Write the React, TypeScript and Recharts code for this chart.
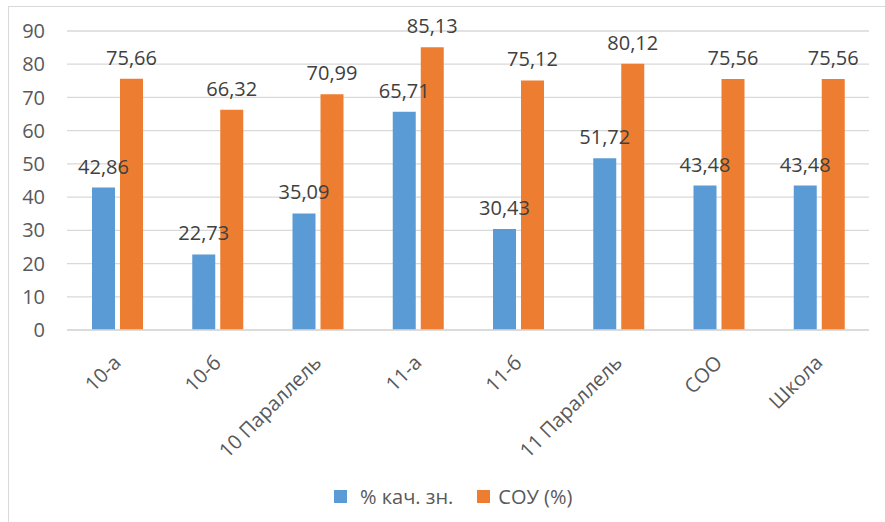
import React from 'react';
import { BarChart, Bar, XAxis, YAxis, CartesianGrid, Legend, LabelList } from 'recharts';

const categories = ['10-а', '10-б', '10 Параллель', '11-а', '11-б', '11 Параллель', 'СОО', 'Школа'];
const quality = [42.86, 22.73, 35.09, 65.71, 30.43, 51.72, 43.48, 43.48];
const sou = [75.66, 66.32, 70.99, 85.13, 75.12, 80.12, 75.56, 75.56];
const yTicks = [0, 10, 20, 30, 40, 50, 60, 70, 80, 90];
const seriesNames = ['% кач. зн.', 'СОУ (%)'];
const seriesColors = ['#5B9BD5', '#ED7D31'];

const data = categories.map((c, i) => ({ name: c, q: quality[i], s: sou[i] }));

const FONT = '"Open Sans", "Noto Sans", sans-serif';

const fmt = (v: any) => Number(v).toFixed(2).replace('.', ',');

const XTick = (props: any) => {
  const { x, y, payload } = props;
  const ex = x + 5;
  const ey = y + 34;
  return (
    <text
      x={ex}
      y={ey}
      transform={`rotate(-45 ${ex} ${ey})`}
      textAnchor="end"
      fill="#595959"
      fontSize={20}
      fontFamily={FONT}
    >
      {payload.value}
    </text>
  );
};

const LegendContent = (props: any) => {
  const { payload } = props;
  return (
    <div style={{ display: 'flex', alignItems: 'center', fontFamily: FONT, fontSize: 20, color: '#595959' }}>
      {(payload || []).map((p: any, i: number) => (
        <div key={i} style={{ display: 'flex', alignItems: 'center', marginRight: 24 }}>
          <div style={{ width: 13, height: 13, background: p.color, marginRight: i === 0 ? 13 : 8 }} />
          <span>{p.value}</span>
        </div>
      ))}
    </div>
  );
};

export default function App() {
  return (
    <div style={{ position: 'absolute', left: 0, top: 0, width: 885, height: 522, overflow: 'hidden', background: '#fff' }}>
      <div
        style={{
          position: 'absolute',
          left: 8,
          top: 6,
          width: 900,
          height: 600,
          borderLeft: '1.5px solid #d9d9d9',
          borderTop: '1.5px solid #d9d9d9',
        }}
      />
      <div style={{ position: 'absolute', left: 0, top: 0 }}>
        <BarChart
          width={885}
          height={522}
          data={data}
          margin={{ top: 31, right: 16, left: 0, bottom: 42 }}
          barGap={5}
          barSize={23}
        >
          <CartesianGrid vertical={false} stroke="#d9d9d9" strokeWidth={1.3} />
          <XAxis
            dataKey="name"
            tickLine={false}
            tickSize={0}
            tickMargin={0}
            axisLine={{ stroke: '#d9d9d9', strokeWidth: 1.5 }}
            tick={<XTick />}
            interval={0}
            height={123}
          />
          <YAxis
            domain={[0, 90]}
            ticks={yTicks}
            width={67}
            axisLine={false}
            tickLine={false}
            tickSize={0}
            tickMargin={22}
            tick={{ fill: '#595959', fontSize: 20, fontFamily: FONT }}
            interval={0}
          />
          <Legend
            content={<LegendContent />}
            wrapperStyle={{ position: 'absolute', left: 334, top: 483, width: 'auto' }}
          />
          <Bar dataKey="q" name={seriesNames[0]} fill={seriesColors[0]} isAnimationActive={false}>
            <LabelList dataKey="q" position="top" offset={14} formatter={fmt} fill="#404040" fontSize={20} fontFamily={FONT} />
          </Bar>
          <Bar dataKey="s" name={seriesNames[1]} fill={seriesColors[1]} isAnimationActive={false}>
            <LabelList dataKey="s" position="top" offset={14} formatter={fmt} fill="#404040" fontSize={20} fontFamily={FONT} />
          </Bar>
        </BarChart>
      </div>
    </div>
  );
}
